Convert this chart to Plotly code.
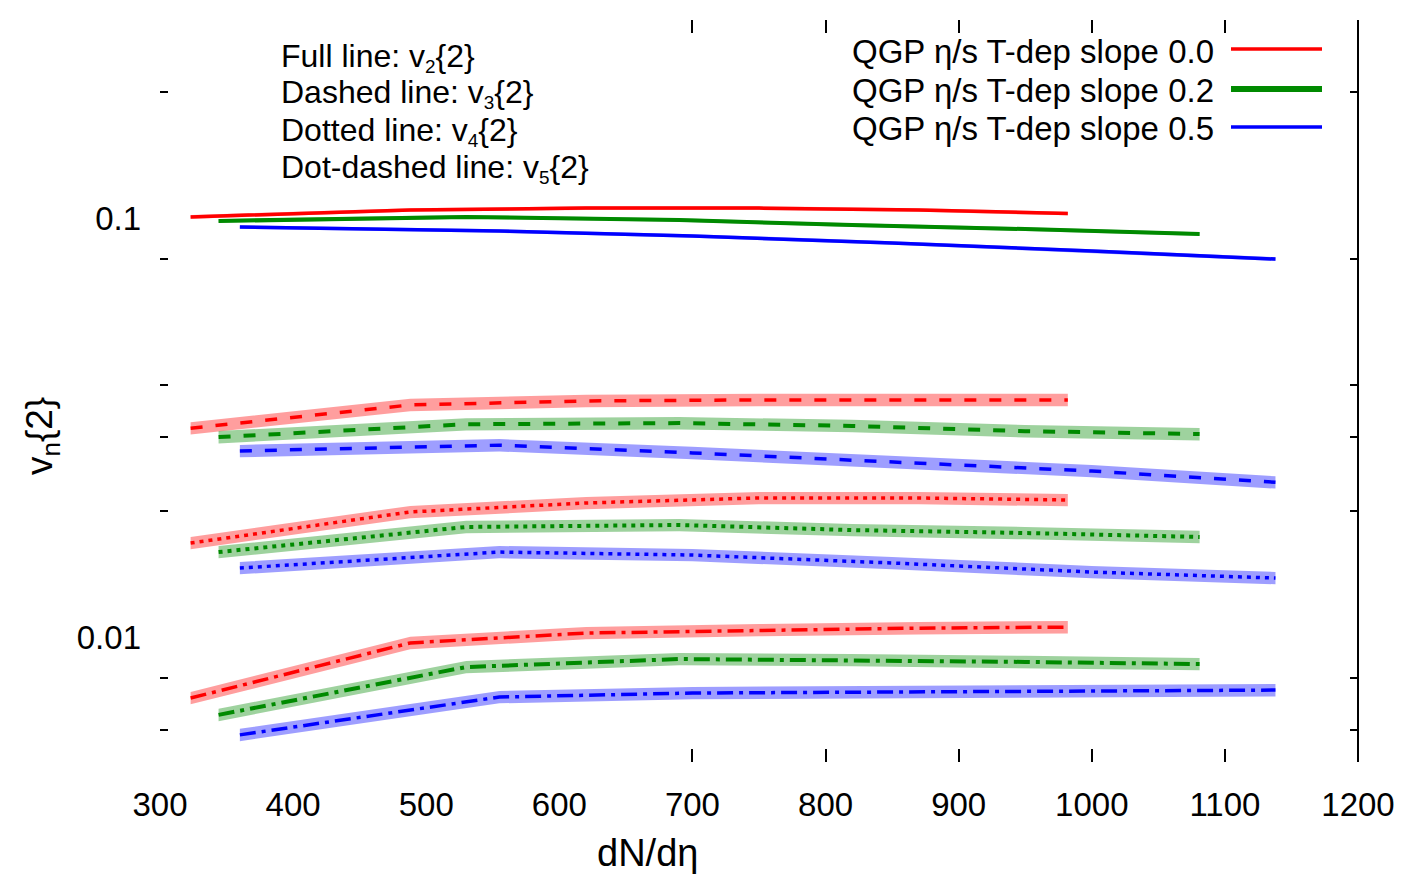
import plotly.graph_objects as go

# ---------------- data ----------------
# dN/deta sample points for each model
x_s00 = [323, 488, 620, 750, 870, 982]
x_s02 = [344, 530, 690, 820, 950, 1081]
x_s05 = [360, 555, 700, 850, 1000, 1138]

v2_s00 = [0.1006, 0.1045, 0.1056, 0.1056, 0.1045, 0.1025]
v2_s02 = [0.0984, 0.1006, 0.0989, 0.0962, 0.0941, 0.0916]
v2_s05 = [0.0952, 0.0931, 0.0906, 0.0872, 0.0834, 0.0798]

v3_s00 = [0.0315, 0.0358, 0.0366, 0.0368, 0.0368, 0.0368]
v3_s02 = [0.0300, 0.0322, 0.0324, 0.0319, 0.0310, 0.0305]
v3_s05 = [0.0278, 0.0287, 0.0275, 0.0262, 0.0249, 0.0234]

v4_s00 = [0.01676, 0.01988, 0.02089, 0.02147, 0.02147, 0.02123]
v4_s02 = [0.01595, 0.01831, 0.01851, 0.01800, 0.01771, 0.01733]
v4_s05 = [0.01461, 0.01595, 0.01569, 0.01502, 0.01429, 0.01383]

v5_s00 = [0.00715, 0.00968, 0.01022, 0.01039, 0.01050, 0.01056]
v5_s02 = [0.00652, 0.00848, 0.00886, 0.00881, 0.00872, 0.00862]
v5_s05 = [0.00584, 0.00719, 0.00735, 0.00739, 0.00743, 0.00747]

# relative half-width of the shaded uncertainty band, per harmonic
band_v2 = 0.010
band_v3 = 0.034
band_v4 = 0.034
band_v5 = 0.034

series_labels = ["QGP η/s T-dep slope 0.0",
                 "QGP η/s T-dep slope 0.2",
                 "QGP η/s T-dep slope 0.5"]
key_prefix = ["Full line: v", "Dashed line: v", "Dotted line: v", "Dot-dashed line: v"]
key_sub = ["2", "3", "4", "5"]
key_suffix = "{2}"
x_ticks = [300, 400, 500, 600, 700, 800, 900, 1000, 1100, 1200]
x_marks = [700, 800, 900, 1000, 1100]
y_labels = [0.1, 0.01]
y_label_text = ["0.1", "0.01"]
y_marks = [0.2, 0.08, 0.04, 0.03, 0.02, 0.008, 0.006]

# ---------------- styling ----------------
FONT = "Liberation Sans, Arial, sans-serif"
colors = ["#ff0000", "#008a00", "#0000ff"]
band_colors = ["rgba(255,0,0,0.38)", "rgba(0,138,0,0.38)", "rgba(0,0,255,0.38)"]
line_w = [3.5, 4.0, 3.5]
dashes = ["solid", "12px,13px", "4px,5px", "16px,6px,4px,6px"]

OFF = 8  # page body margin
W, H = 1406, 874
PW, PH = 1198, 742
L = 160 - OFF
T = 20 - OFF
R = W - L - PW
B = H - T - PH


def pxx(xp):
    return (xp - OFF - L) / PW


def pxy(yp):
    return (T + PH - (yp - OFF)) / PH


xs = [x_s00, x_s02, x_s05]
harmonics = [
    ([v2_s00, v2_s02, v2_s05], band_v2),
    ([v3_s00, v3_s02, v3_s05], band_v3),
    ([v4_s00, v4_s02, v4_s05], band_v4),
    ([v5_s00, v5_s02, v5_s05], band_v5),
]

fig = go.Figure()

# bands
for hi, (vals, rel) in enumerate(harmonics):
    for si in range(3):
        x = xs[si]
        y = vals[si]
        up = [v * (1 + rel) for v in y]
        lo = [v * (1 - rel) for v in y]
        fig.add_trace(go.Scatter(
            x=x + x[::-1], y=up + lo[::-1], fill="toself",
            fillcolor=band_colors[si], line=dict(width=0),
            mode="lines", hoverinfo="skip", showlegend=False,
            xaxis="x", yaxis="y"))

# central lines
for hi, (vals, rel) in enumerate(harmonics):
    for si in range(3):
        fig.add_trace(go.Scatter(
            x=xs[si], y=vals[si], mode="lines",
            line=dict(color=colors[si], width=line_w[si], dash=dashes[hi]),
            showlegend=False, xaxis="x2", yaxis="y2"))

yr = [-2.2983, -0.5274]

fig.update_layout(
    width=W, height=H,
    margin=dict(l=L, r=R, t=T, b=B),
    paper_bgcolor="white", plot_bgcolor="white",
    font=dict(family=FONT, color="black", size=33),
    showlegend=False,
    xaxis=dict(range=[300, 1200], tickvals=x_ticks, ticks="",
               showline=False, showgrid=False, zeroline=False,
               tickfont=dict(size=33), ticklabelstandoff=20),
    xaxis2=dict(range=[300, 1200], overlaying="x", anchor="y2", side="bottom",
                tickvals=x_marks, ticks="inside", ticklen=13, tickwidth=2,
                tickcolor="black", mirror="ticks", showticklabels=False,
                showline=False, showgrid=False, zeroline=False),
    yaxis=dict(type="log", range=yr, tickvals=y_labels, ticktext=y_label_text,
               ticks="", showline=False, showgrid=False, zeroline=False,
               tickfont=dict(size=33), ticklabelstandoff=18),
    yaxis2=dict(type="log", range=yr, overlaying="y", anchor="x2", side="left",
                tickvals=y_marks, ticks="inside", ticklen=8, tickwidth=2,
                tickcolor="black", mirror="ticks", showticklabels=False,
                showline=False, showgrid=False, zeroline=False),
)

# right frame line
fig.add_shape(type="line", xref="paper", yref="paper", x0=1, x1=1, y0=0, y1=1,
              line=dict(color="black", width=2))

annotations = []
# key text (top-left)
key_y = [57, 94, 131, 168]
for pre, sub, yy in zip(key_prefix, key_sub, key_y):
    t = pre + "<span style='font-size:27px'><sub>" + sub + "</sub></span>" + key_suffix
    annotations.append(dict(text=t, xref="paper", yref="paper",
                            x=pxx(280), y=pxy(yy), xanchor="left", yanchor="middle",
                            showarrow=False, borderpad=0, font=dict(size=32)))
# legend (top-right)
leg_y = [49, 89, 127]
for lab, yy, c, w in zip(series_labels, leg_y, colors, [3.5, 6, 3.5]):
    annotations.append(dict(text=lab, xref="paper", yref="paper",
                            x=pxx(1215), y=pxy(yy + 2), xanchor="right", yanchor="middle",
                            showarrow=False, borderpad=0, font=dict(size=33)))
    fig.add_shape(type="line", xref="paper", yref="paper",
                  x0=pxx(1231), x1=pxx(1322), y0=pxy(yy), y1=pxy(yy),
                  line=dict(color=c, width=w))
# axis titles
annotations.append(dict(text="dN/dη", xref="paper", yref="paper",
                        x=pxx(647), y=pxy(853), xanchor="center", yanchor="middle",
                        showarrow=False, font=dict(size=38)))
annotations.append(dict(text="v<sub>n</sub>{2}", xref="paper", yref="paper",
                        x=pxx(42), y=pxy(436), xanchor="center", yanchor="middle",
                        textangle=-90, showarrow=False, font=dict(size=37)))
fig.update_layout(annotations=annotations)

fig.write_html("out.html")
